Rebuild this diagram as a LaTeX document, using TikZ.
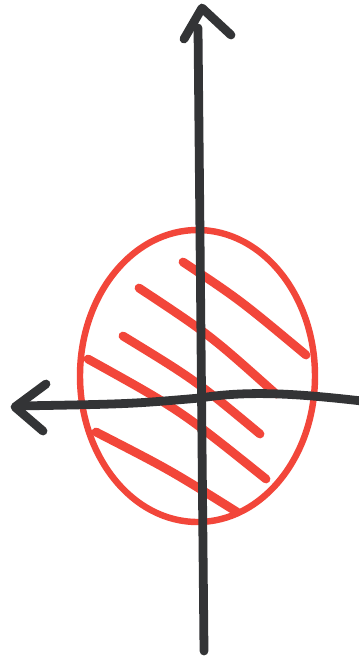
\documentclass[tikz,border=0pt]{standalone}
\definecolor{penblack}{HTML}{333436}
\definecolor{penred}{HTML}{F2463A}
\tikzset{
  axisline/.style={draw=penblack, line width=7.5pt, line cap=round, line join=round},
  hatchline/.style={draw=penred, line width=7.5pt, line cap=round},
  regionline/.style={draw=penred, line width=5.5pt}
}
\begin{document}
\begin{tikzpicture}[x=0.03cm, y=-0.03cm]
      % Page frame, same size as the sketch
      \useasboundingbox (0,0) rectangle (359,661);
      \fill[white] (0,0) rectangle (359,661);

      % Axis end points
      \coordinate (ytop) at (198,28);
      \coordinate (ybot) at (204,651);
      \coordinate (xleft) at (17,406);
      \coordinate (xright) at (362,401);

      % Red region
      \draw[regionline] (197.5,376) ellipse (117.5 and 146);

      % Hatching inside the region
      \draw[hatchline] (183,262) .. controls (240,300) .. (306,355);
      \draw[hatchline] (139,288) .. controls (210,335) .. (276,394);
      \draw[hatchline] (123,336) .. controls (195,380) .. (260,434);
      \draw[hatchline] (88,359) .. controls (180,410) .. (266,479);
      \draw[hatchline] (96,432) .. controls (170,470) .. (237,512);

      % Vertical axis with its arrow head
      \draw[axisline] (ybot) -- (ytop);
      \draw[axisline] (184,39) -- (202,8) -- (231,35);

      % Horizontal axis with its arrow head
      \draw[axisline] (xright) .. controls (300,394) and (250,390) .. (200,398)
        .. controls (130,404) .. (xleft);
      \draw[axisline] (46,384) -- (15,407) -- (43,431);
    \end{tikzpicture}
\end{document}
